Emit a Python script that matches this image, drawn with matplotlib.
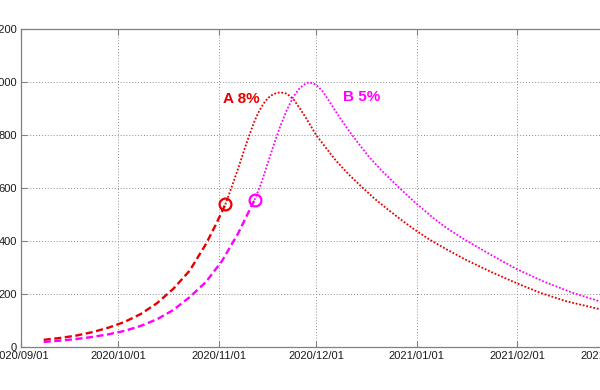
import numpy as np
import matplotlib
matplotlib.use("Agg")
import matplotlib.pyplot as plt
import matplotlib.dates as mdates

plt.rcParams['font.family'] = ['Liberation Sans', 'DejaVu Sans']

# ---- data ----
a_growth_dates = ['2020-09-08', '2020-09-13', '2020-09-18', '2020-09-23', '2020-09-28',
                  '2020-10-03', '2020-10-08', '2020-10-13', '2020-10-18', '2020-10-23',
                  '2020-10-28', '2020-10-31', '2020-11-03']
a_growth_vals = [27, 34, 43, 56, 73, 95, 125, 166, 220, 288, 388, 460, 538]

a_proj_dates = ['2020-11-03', '2020-11-05', '2020-11-07', '2020-11-09', '2020-11-11',
                '2020-11-12', '2020-11-13', '2020-11-14', '2020-11-15', '2020-11-16',
                '2020-11-17', '2020-11-18', '2020-11-19', '2020-11-20', '2020-11-22',
                '2020-11-24', '2020-11-26', '2020-11-28', '2020-12-01', '2020-12-04',
                '2020-12-07', '2020-12-11', '2020-12-15', '2020-12-19', '2020-12-23',
                '2020-12-27', '2020-12-31', '2021-01-05', '2021-01-10', '2021-01-16',
                '2021-01-24', '2021-02-01', '2021-02-08', '2021-02-16', '2021-02-26',
                '2021-03-01']
a_proj_vals = [538, 605, 675, 750, 820, 852, 880, 903, 922, 937, 948, 955, 959, 961, 956,
               935, 900, 862, 800, 752, 705, 652, 605, 560, 520, 482, 446, 405, 370, 330,
               283, 240, 205, 173, 144, 136]

b_growth_dates = ['2020-09-08', '2020-09-13', '2020-09-18', '2020-09-23', '2020-09-28',
                  '2020-10-03', '2020-10-08', '2020-10-13', '2020-10-18', '2020-10-23',
                  '2020-10-28', '2020-11-02', '2020-11-07', '2020-11-12']
b_growth_vals = [19, 24, 30, 38, 48, 61, 80, 105, 140, 188, 245, 325, 430, 555]

b_proj_dates = ['2020-11-12', '2020-11-14', '2020-11-16', '2020-11-18', '2020-11-20',
                '2020-11-22', '2020-11-24', '2020-11-26', '2020-11-28', '2020-11-29',
                '2020-12-01', '2020-12-03', '2020-12-05', '2020-12-07', '2020-12-09',
                '2020-12-11', '2020-12-14', '2020-12-17', '2020-12-21', '2020-12-26',
                '2020-12-31', '2021-01-06', '2021-01-10', '2021-01-14', '2021-01-16',
                '2021-01-24', '2021-02-01', '2021-02-09', '2021-02-18', '2021-02-26',
                '2021-03-01']
b_proj_vals = [555, 615, 690, 765, 835, 895, 945, 978, 996, 999, 990, 965, 928, 890, 853,
               818, 769, 722, 668, 608, 551, 488, 451, 419, 404, 347, 293, 248, 205, 174,
               164]

a_label = 'A 8%'
b_label = 'B 5%'
y_ticks = [0, 200, 400, 600, 800, 1000, 1200]

RED = '#e60000'
MAG = '#ff00ff'


def d(lst):
    return np.array(lst, dtype='datetime64[D]')


fig = plt.figure(figsize=(6.0, 3.9), dpi=100)
ax = fig.add_axes([21 / 600, 43 / 390, 587 / 600, 318 / 390])

ax.plot(d(a_growth_dates), a_growth_vals, color=RED, lw=1.7, ls=(0, (3, 1.5)), zorder=3)
ax.plot(d(a_proj_dates), a_proj_vals, color=RED, lw=1.3, ls=(0, (1, 1.0)), zorder=3)
ax.plot(d(b_growth_dates), b_growth_vals, color=MAG, lw=1.7, ls=(0, (3, 1.5)), zorder=3)
ax.plot(d(b_proj_dates), b_proj_vals, color=MAG, lw=1.3, ls=(0, (1, 1.0)), zorder=3)

ax.plot(d(a_growth_dates[-1:]), a_growth_vals[-1:], 'o', ms=8.5, mfc='none',
        mec=RED, mew=1.6, zorder=4)
ax.plot(d(b_growth_dates[-1:]), b_growth_vals[-1:], 'o', ms=8.5, mfc='none',
        mec=MAG, mew=1.6, zorder=4)

ax.text(np.datetime64('2020-11-08'), 937, a_label, color=RED, fontsize=11,
        fontweight='bold', ha='center', va='center')
ax.text(np.datetime64('2020-12-15'), 943, b_label, color=MAG, fontsize=11,
        fontweight='bold', ha='center', va='center')

ax.set_xlim(np.datetime64('2020-09-01'), np.datetime64('2021-03-01'))
ax.set_ylim(0, 1200)
ax.set_yticks(y_ticks)
ax.xaxis.set_major_locator(mdates.MonthLocator())
ax.xaxis.set_major_formatter(mdates.DateFormatter('%Y/%m/%d'))

ax.grid(True, color='#8c8c8c', lw=0.7, ls=(0, (1, 2)))
ax.set_axisbelow(True)
for s in ax.spines.values():
    s.set_color('#808080')
    s.set_linewidth(0.9)
ax.tick_params(direction='in', length=4, width=0.8, color='#808080',
               labelsize=8, labelcolor='#1a1a1a', pad=3)
ax.tick_params(axis='both', top=True, right=True)

fig.savefig('out.png', dpi=100)
